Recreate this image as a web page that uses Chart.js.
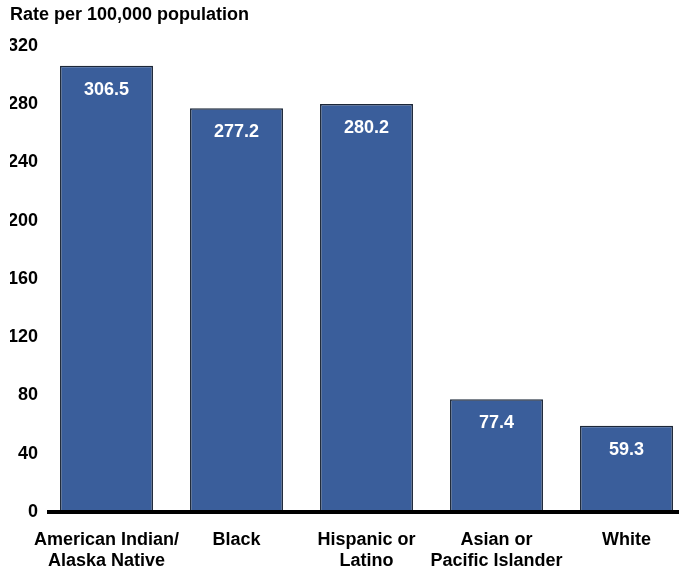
<!DOCTYPE html>
<html>
<head>
<meta charset="utf-8">
<script src="https://cdn.jsdelivr.net/npm/chart.js@4/dist/chart.umd.min.js"></script>
<style>
html, body { margin: 0; padding: 0; overflow: hidden; background: #fff; }
#wrap { position: relative; width: 700px; height: 571px; }
</style>
</head>
<body>
<div id="wrap"><canvas id="c"></canvas></div>
<script>
const categories = [
  ["American Indian/", "Alaska Native"],
  ["Black"],
  ["Hispanic or", "Latino"],
  ["Asian or", "Pacific Islander"],
  ["White"]
];
const rates = [306.5, 277.2, 280.2, 77.4, 59.3];
const yTicks = [0, 40, 80, 120, 160, 200, 240, 280, 320];
const titleText = "Rate per 100,000 population";

const FONT = "'Liberation Sans', Arial, sans-serif";

const valueLabels = {
  id: 'valueLabels',
  afterDatasetsDraw(chart) {
    const ctx = chart.ctx;
    const meta = chart.getDatasetMeta(0);
    ctx.save();
    ctx.fillStyle = '#ffffff';
    ctx.font = 'bold 18px ' + FONT;
    ctx.textAlign = 'center';
    ctx.textBaseline = 'middle';
    meta.data.forEach((bar, i) => {
      ctx.fillText(rates[i].toFixed(1), bar.x, bar.y + 24);
    });
    ctx.restore();
  }
};

const baseLine = {
  id: 'baseLine',
  afterDatasetsDraw(chart) {
    const ctx = chart.ctx;
    const y = chart.scales.y.getPixelForValue(0);
    ctx.save();
    ctx.strokeStyle = '#000';
    ctx.lineWidth = 4;
    ctx.beginPath();
    ctx.moveTo(chart.chartArea.left + 5.5, y);
    ctx.lineTo(chart.chartArea.right, y);
    ctx.stroke();
    ctx.restore();
  }
};

new Chart(document.getElementById('c'), {
  type: 'bar',
  data: {
    labels: categories,
    datasets: [{
      data: rates,
      backgroundColor: '#3a5e9b',
      borderColor: '#1c2738',
      borderWidth: 1.5,
      barPercentage: 0.715,
      categoryPercentage: 1.0
    }]
  },
  options: {
    responsive: true,
    maintainAspectRatio: false,
    animation: false,
    layout: { padding: { left: 10, right: 8.5, top: 0, bottom: 0 } },
    plugins: {
      legend: { display: false },
      tooltip: { enabled: false },
      title: {
        display: true,
        text: titleText,
        align: 'start',
        color: '#000',
        font: { family: FONT, size: 18, weight: 'bold', lineHeight: 1.2 },
        padding: { top: 4, bottom: 20.4 }
      }
    },
    scales: {
      x: {
        grid: { display: false, drawTicks: false },
        border: { display: false },
        ticks: {
          color: '#000',
          padding: 17,
          maxRotation: 0,
          autoSkip: false,
          font: { family: FONT, size: 18, weight: 'bold', lineHeight: 1.2 }
        },
        afterFit(scale) { scale.height = 59; }
      },
      y: {
        min: 0,
        max: 320,
        grid: { display: false, drawTicks: false },
        border: { display: false },
        afterBuildTicks(scale) { scale.ticks = yTicks.map(v => ({ value: v })); },
        ticks: {
          color: '#000',
          padding: 3.5,
          font: { family: FONT, size: 18, weight: 'bold' }
        },
        afterFit(scale) { scale.width = 31.5; }
      }
    }
  },
  plugins: [valueLabels, baseLine]
});
</script>
</body>
</html>
